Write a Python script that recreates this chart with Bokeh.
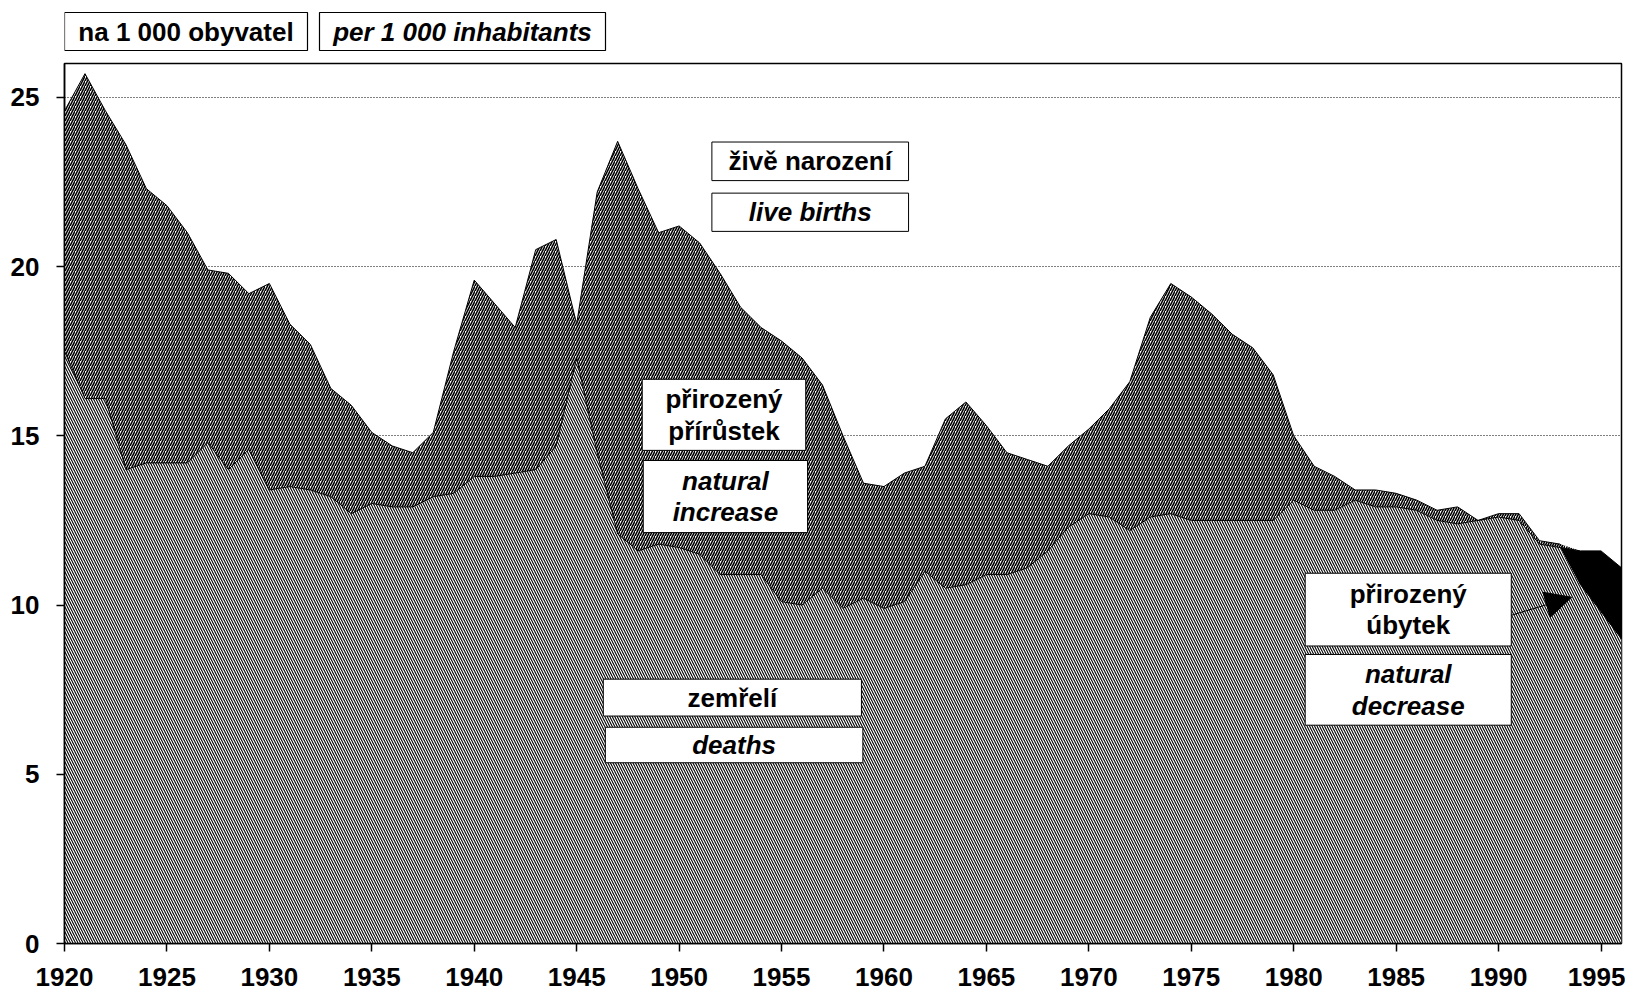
import numpy as np
from bokeh.plotting import figure
from bokeh.layouts import column
from bokeh.models import Range1d, Arrow, NormalHead, FixedTicker
from bokeh.core.properties import value
from bokeh.embed import file_html
from bokeh.resources import INLINE

years = list(range(1920, 1997))
births = [24.6, 25.7, 24.6, 23.6, 22.3, 21.8, 21.0, 19.9, 19.8, 19.2,
          19.5, 18.3, 17.7, 16.4, 15.9, 15.1, 14.7, 14.5, 15.1, 17.5,
          19.6, 18.9, 18.2, 20.5, 20.8, 18.3, 22.2, 23.7, 22.3, 21.0,
          21.2, 20.7, 19.8, 18.8, 18.2, 17.8, 17.3, 16.5, 15.0, 13.6,
          13.5, 13.9, 14.1, 15.5, 16.0, 15.3, 14.5, 14.3, 14.1, 14.7,
          15.2, 15.8, 16.6, 18.5, 19.5, 19.1, 18.6, 18.0, 17.6, 16.8,
          15.0, 14.1, 13.8, 13.4, 13.4, 13.3, 13.1, 12.8, 12.9, 12.5,
          12.7, 12.7, 11.9, 11.8, 10.6, 9.8, 9.0]
deaths = [17.5, 16.1, 16.1, 14.0, 14.2, 14.2, 14.2, 14.8, 14.0, 14.6,
          13.4, 13.5, 13.4, 13.2, 12.7, 13.0, 12.9, 12.9, 13.2, 13.3,
          13.8, 13.8, 13.9, 14.0, 14.7, 17.3, 14.5, 12.1, 11.6, 11.8,
          11.7, 11.5, 10.9, 10.9, 10.9, 10.1, 10.0, 10.5, 9.9, 10.2,
          9.9, 10.1, 11.0, 10.5, 10.6, 10.9, 10.9, 11.1, 11.6, 12.3,
          12.7, 12.6, 12.2, 12.6, 12.7, 12.5, 12.5, 12.5, 12.5, 12.5,
          13.1, 12.8, 12.8, 13.1, 12.9, 12.9, 12.8, 12.5, 12.4, 12.5,
          12.6, 12.5, 11.8, 11.7, 11.6, 11.6, 11.1]
y_ticks = [0, 5, 10, 15, 20, 25]
x_ticks = list(range(1920, 1996, 5))

box_texts = ["živě narození", "live births", "přirozený\npřírůstek", "natural\nincrease",
             "zemřelí", "deaths", "přirozený\núbytek", "natural\ndecrease"]
header_texts = ["na 1 000 obyvatel", "per 1 000 inhabitants"]

FONT = "Liberation Sans"
W = 1625
HEAD_H = 61
FRAME_L = 64
FRAME_R = W - 4

b = np.array(births)
d = np.array(deaths)
low = np.minimum(b, d)
high = np.maximum(b, d)

# ---- header strip with the unit boxes (frame aligned with the chart's frame) ----
head = figure(width=W, height=HEAD_H, x_range=Range1d(FRAME_L, FRAME_R), y_range=Range1d(HEAD_H, 0),
              output_backend="svg", toolbar_location=None,
              x_axis_location=None, y_axis_location=None,
              min_border_left=FRAME_L, min_border_right=W - FRAME_R, min_border_top=0, min_border_bottom=0)
head.outline_line_color = None
head.grid.visible = False
head.background_fill_color = "white"
head.border_fill_color = "white"
hl = [64, 319]
hr = [307, 605]
head.quad(left=hl, right=hr, top=[12, 12], bottom=[50, 50],
          fill_color="white", line_color="black", line_width=1.2)
for txt, l, r, st in zip(header_texts, hl, hr, ["bold", "bold italic"]):
    head.text(x=[(l + r) / 2], y=[31], text=[txt], text_align="center", text_baseline="middle",
              text_font=value(FONT), text_font_style=st, text_font_size="26px", text_color="black")

# ---- main chart ----
p = figure(width=W, height=943 - HEAD_H + 53, x_range=Range1d(1920, 1996), y_range=Range1d(0, 26),
           output_backend="svg", toolbar_location=None,
           min_border_left=FRAME_L, min_border_right=W - FRAME_R, min_border_top=2, min_border_bottom=53)

p.background_fill_color = "white"
p.border_fill_color = "white"
p.outline_line_color = "black"
p.outline_line_width = 1.5

p.xgrid.visible = False
p.ygrid.ticker = FixedTicker(ticks=y_ticks)
p.ygrid.grid_line_color = "black"
p.ygrid.grid_line_dash = "1 2"
p.ygrid.grid_line_width = 1

for ax, ticks, standoff in ((p.xaxis[0], x_ticks, 16), (p.yaxis[0], y_ticks, 17)):
    ax.ticker = FixedTicker(ticks=ticks)
    ax.major_tick_out = 8
    ax.major_tick_in = 0
    ax.minor_tick_out = 0
    ax.minor_tick_in = 0
    ax.axis_line_color = "black"
    ax.axis_line_width = 1.5
    ax.major_tick_line_color = "black"
    ax.major_tick_line_width = 1.5
    ax.major_label_text_font = FONT
    ax.major_label_text_font_style = "bold"
    ax.major_label_text_font_size = "26px"
    ax.major_label_text_color = "black"
    ax.major_label_standoff = standoff

# deaths (light hatch), natural increase (dark hatch), natural decrease (black)
p.varea(x=years, y1=0, y2=low, fill_color="white",
        hatch_pattern="left_diagonal_line", hatch_color="black", hatch_weight=1.1, hatch_scale=5)
p.varea(x=years, y1=d, y2=high, fill_color="white",
        hatch_pattern="right_diagonal_line", hatch_color="black", hatch_weight=1.6, hatch_scale=5)
p.varea(x=years, y1=low, y2=d, fill_color="black")
p.line(x=years, y=births, line_color="black", line_width=1)
p.line(x=years, y=deaths, line_color="black", line_width=1)

# annotation boxes
box_l = [1951.6, 1951.6, 1948.2, 1948.25, 1946.3, 1946.4, 1980.56, 1980.56]
box_r = [1961.2, 1961.2, 1956.18, 1956.27, 1958.9, 1958.97, 1990.62, 1990.62]
box_t = [23.68, 22.17, 16.67, 14.27, 7.81, 6.39, 10.94, 8.54]
box_b = [22.54, 21.04, 14.57, 12.14, 6.72, 5.34, 8.79, 6.45]
styles = ["bold", "bold italic"] * 4
p.quad(left=box_l, right=box_r, top=box_t, bottom=box_b,
       fill_color="white", line_color="black", line_width=1)
cx = [(l + r) / 2 for l, r in zip(box_l, box_r)]
cy = [(t + bb) / 2 for t, bb in zip(box_t, box_b)]
for i in range(len(box_texts)):
    p.text(x=[cx[i]], y=[cy[i]], text=[box_texts[i]], text_align="center", text_baseline="middle",
           text_font=value(FONT), text_font_style=styles[i], text_font_size="26px",
           text_color="black", text_line_height=1.05)

p.add_layout(Arrow(end=NormalHead(size=26, fill_color="black", line_color="black"),
                   x_start=1990.63, y_start=9.70, x_end=1993.56, y_end=10.23,
                   line_color="black", line_width=1))

layout = column(head, p, spacing=0)
open("out.html", "w").write(file_html(layout, INLINE))
